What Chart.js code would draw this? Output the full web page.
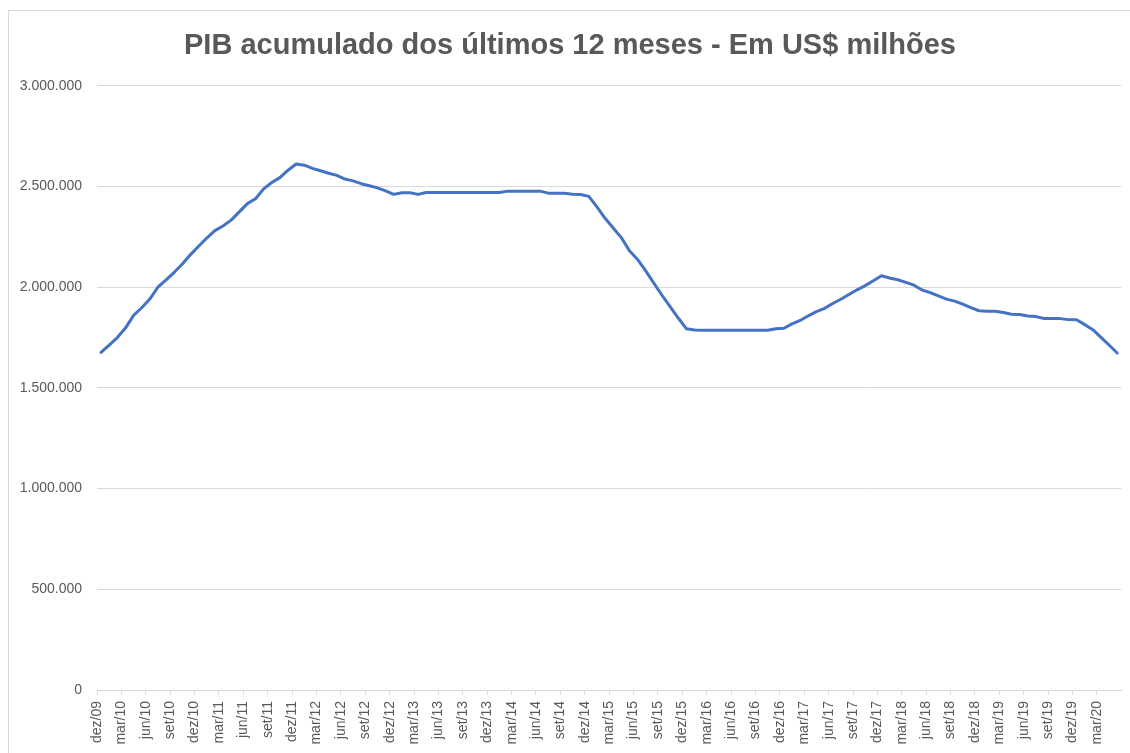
<!DOCTYPE html>
<html lang="pt-BR">
<head>
<meta charset="utf-8">
<title>PIB acumulado dos últimos 12 meses</title>
<script src="https://cdn.jsdelivr.net/npm/chart.js@4"></script>
<style>
    html, body { margin: 0; padding: 0; background: #fff; overflow: hidden; }
    #wrap { position: relative; width: 1130px; height: 753px; overflow: hidden; }
    #frame { position: absolute; left: 8px; top: 10px; width: 1200px; height: 800px; border: 1px solid #d9d9d9; box-sizing: border-box; pointer-events: none; }
    canvas { position: absolute; left: 0; top: 0; }
</style>
</head>
<body>
<div id="wrap">
    <div id="frame"></div>
    <canvas id="pibChart" width="1140" height="753"></canvas>
</div>
<script>
// Month abbreviations (pt-BR) used for the category labels
const monthNames = ['jan', 'fev', 'mar', 'abr', 'mai', 'jun', 'jul', 'ago', 'set', 'out', 'nov', 'dez'];

// Categories: monthly, dez/09 to mai/20
const months = [];
for (let i = 0; i < 126; i++) {
    const m = (11 + i) % 12;
    const y = 9 + Math.floor((11 + i) / 12);
    months.push(monthNames[m] + '/' + String(y).padStart(2, '0'));
}

// PIB acumulado 12 meses, US$ milhões
const pibValues = [
    1676000, 1712000, 1750000, 1797000, 1860000, 1898000, 1941000, 2001000, 2036000, 2074000,
    2115000, 2162000, 2203000, 2244000, 2281000, 2304000, 2333000, 2374000, 2415000, 2439000,
    2488000, 2520000, 2544000, 2581000, 2612000, 2606000, 2590000, 2578000, 2566000, 2555000,
    2537000, 2528000, 2514000, 2504000, 2493000, 2478000, 2461000, 2469000, 2469000, 2461000,
    2470000, 2470000, 2470000, 2470000, 2470000, 2470000, 2470000, 2470000, 2470000, 2470000,
    2477000, 2477000, 2477000, 2477000, 2477000, 2467000, 2467000, 2467000, 2461000, 2460000,
    2451000, 2399000, 2342000, 2294000, 2246000, 2181000, 2138000, 2081000, 2020000, 1960000,
    1903000, 1847000, 1794000, 1788000, 1786000, 1786000, 1786000, 1786000, 1786000, 1786000,
    1786000, 1786000, 1786000, 1794000, 1796000, 1818000, 1835000, 1858000, 1879000, 1895000,
    1919000, 1940000, 1964000, 1987000, 2008000, 2032000, 2057000, 2046000, 2037000, 2024000,
    2010000, 1986000, 1973000, 1957000, 1941000, 1931000, 1916000, 1899000, 1883000, 1881000,
    1881000, 1874000, 1866000, 1864000, 1857000, 1854000, 1845000, 1844000, 1844000, 1839000,
    1838000, 1814000, 1789000, 1751000, 1713000, 1673000
];

// Y axis ticks
const yTicks = [0, 500000, 1000000, 1500000, 2000000, 2500000, 3000000];

const textColor = '#595959';
const gridColor = '#d9d9d9';

const fmt = (v) => v === 0 ? '0' : v.toLocaleString('de-DE');

const data = {
    labels: months,
    datasets: [{
        label: 'PIB acumulado 12 meses',
        data: pibValues,
        borderColor: '#4472c4',
        backgroundColor: '#4472c4',
        borderWidth: 3,
        pointRadius: 0,
        tension: 0,
        borderJoinStyle: 'round',
        borderCapStyle: 'round'
    }]
};

const config = {
    type: 'line',
    data: data,
    options: {
        responsive: false,
        animation: false,
        layout: { padding: { left: 0, right: 0, top: 0, bottom: 0 } },
        plugins: {
            legend: { display: false },
            tooltip: { enabled: false },
            title: {
                display: true,
                text: 'PIB acumulado dos últimos 12 meses - Em US$ milhões',
                color: textColor,
                font: { family: 'Liberation Sans, Arial, sans-serif', size: 29, weight: 'bold' },
                padding: { top: 29, bottom: 22 }
            }
        },
        scales: {
            x: {
                type: 'category',
                offset: true,
                grid: {
                    offset: true,
                    drawOnChartArea: false,
                    drawTicks: true,
                    tickLength: 5,
                    color: (ctx) => ctx.index % 3 === 0 ? gridColor : 'rgba(0,0,0,0)'
                },
                border: { display: true, color: gridColor, width: 1 },
                ticks: {
                    autoSkip: false,
                    minRotation: 90,
                    maxRotation: 90,
                    padding: 6,
                    labelOffset: -4,
                    color: textColor,
                    font: { family: 'Liberation Sans, Arial, sans-serif', size: 14 },
                    callback: function (value, index) {
                        return index % 3 === 0 ? months[index] : '';
                    }
                },
                afterFit: (scale) => { scale.height = 63; }
            },
            y: {
                min: 0,
                max: 3000000,
                grid: { color: gridColor, lineWidth: 1, drawTicks: false },
                border: { display: false },
                afterBuildTicks: (scale) => { scale.ticks = yTicks.map(v => ({ value: v })); },
                ticks: {
                    padding: 15,
                    color: textColor,
                    font: { family: 'Liberation Sans, Arial, sans-serif', size: 14 },
                    callback: (v) => fmt(v)
                },
                afterFit: (scale) => { scale.width = 97; }
            }
        }
    }
};

new Chart(document.getElementById('pibChart'), config);
</script>
</body>
</html>
